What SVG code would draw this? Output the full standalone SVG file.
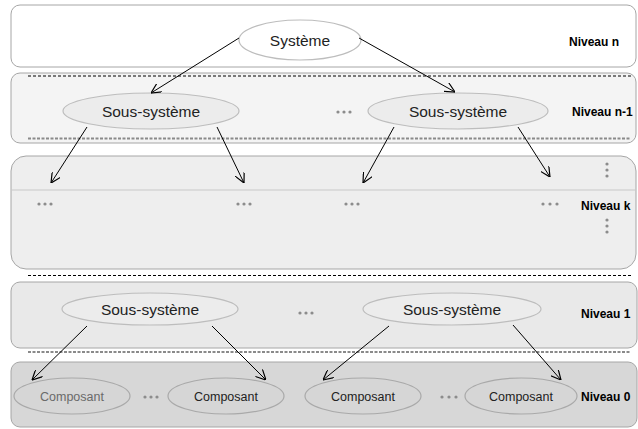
<svg xmlns="http://www.w3.org/2000/svg" width="638" height="429" viewBox="0 0 638 429">
<style>
.band{stroke:#a6a6a6;stroke-width:1}
.ell{fill:#ececec;stroke:#bdbdbd;stroke-width:1.2}
.ell0{fill:#d6d6d6;stroke:#a9a9a9;stroke-width:1.2}
.t{font-family:"Liberation Sans",Arial,sans-serif;fill:#222;text-anchor:middle}
.big{font-size:15.5px}
.small{font-size:12.5px}
.lvl{font-family:"Liberation Sans",Arial,sans-serif;font-size:12px;font-weight:bold;fill:#000}
.dots{fill:#8c8c8c}
.conn line{stroke:#000;stroke-width:1;marker-end:url(#arr)}
.dash1{stroke:#000;stroke-width:1;stroke-dasharray:3 2}
.dash2{stroke:#8a8a8a;stroke-width:2;stroke-dasharray:3 1.5}
</style>
<defs>
<marker id="arr" viewBox="0 0 10 10" refX="10" refY="5" markerWidth="10" markerHeight="10" markerUnits="userSpaceOnUse" orient="auto">
<path d="M0,0 L10,5 L0,10" fill="none" stroke="#000" stroke-width="1.2"/>
</marker>
</defs>

<g id="band-n"><rect class="band" x="11" y="5" width="625" height="62" rx="9" fill="#ffffff"/>
<text class="lvl" x="569" y="46">Niveau  n</text></g>

<g id="band-n1"><rect class="band" x="11" y="73" width="625" height="70" rx="9" fill="#f4f4f4"/>
<line class="dash1" x1="28" y1="76" x2="631" y2="76"/>
<line class="dash2" x1="28" y1="138.5" x2="631" y2="138.5"/>
<text class="lvl" x="572" y="116">Niveau  n-1</text></g>

<g id="band-k"><rect class="band" x="11" y="156" width="625" height="113" rx="15" fill="#eeeeee"/>
<line x1="11" y1="190" x2="636" y2="190" stroke="#c8c8c8" stroke-width="1"/>
<text class="lvl" x="581" y="210">Niveau  k</text>
<g class="dots">
<circle cx="39" cy="204" r="1.6"/><circle cx="45" cy="204" r="1.6"/><circle cx="51" cy="204" r="1.6"/>
<circle cx="238" cy="204" r="1.6"/><circle cx="244" cy="204" r="1.6"/><circle cx="250" cy="204" r="1.6"/>
<circle cx="346" cy="204" r="1.6"/><circle cx="352" cy="204" r="1.6"/><circle cx="358" cy="204" r="1.6"/>
<circle cx="543" cy="204" r="1.6"/><circle cx="550" cy="204" r="1.6"/><circle cx="557" cy="204" r="1.6"/>
<circle cx="607" cy="164" r="1.6"/><circle cx="607" cy="170" r="1.6"/><circle cx="607" cy="176" r="1.6"/>
<circle cx="607" cy="220" r="1.6"/><circle cx="607" cy="226" r="1.6"/><circle cx="607" cy="232" r="1.6"/>
</g></g>

<line id="sep-k" class="dash1" x1="28" y1="275.5" x2="631" y2="275.5"/>

<g id="band-1"><rect class="band" x="11" y="282" width="626" height="66" rx="9" fill="#e9e9e9"/>
<text class="lvl" x="581" y="318">Niveau  1</text>
<g class="dots"><circle cx="300" cy="313" r="1.6"/><circle cx="306" cy="313" r="1.6"/><circle cx="312" cy="313" r="1.6"/></g></g>

<line id="sep-1" class="dash2" x1="28" y1="352" x2="631" y2="352"/>

<g id="band-0"><rect class="band" x="11" y="362" width="626" height="65" rx="9" fill="#d7d7d7"/>
<text class="lvl" x="581" y="401">Niveau  0</text>
<g class="dots">
<circle cx="145" cy="397" r="1.6"/><circle cx="151" cy="397" r="1.6"/><circle cx="157" cy="397" r="1.6"/>
<circle cx="442" cy="397" r="1.6"/><circle cx="449" cy="397" r="1.6"/><circle cx="456" cy="397" r="1.6"/>
</g></g>

<g id="systeme"><ellipse class="ell" cx="300" cy="40" rx="61" ry="20" style="fill:#ffffff"/>
<text class="t big" x="300" y="46">Système</text></g>
<g id="ss-n1-a"><ellipse class="ell" cx="151" cy="111" rx="88" ry="18"/>
<text class="t big" x="151" y="117">Sous-système</text></g>
<g id="dots-n1" class="dots"><circle cx="338" cy="112" r="1.6"/><circle cx="344" cy="112" r="1.6"/><circle cx="350" cy="112" r="1.6"/></g>
<g id="ss-n1-b"><ellipse class="ell" cx="458" cy="111" rx="90" ry="18"/>
<text class="t big" x="458" y="117">Sous-système</text></g>

<g id="ss-1-a"><ellipse class="ell" cx="150" cy="309" rx="88" ry="16"/>
<text class="t big" x="150" y="315">Sous-système</text></g>
<g id="ss-1-b"><ellipse class="ell" cx="452" cy="309" rx="89" ry="16"/>
<text class="t big" x="452" y="315">Sous-système</text></g>

<g id="comp-1"><ellipse class="ell0" cx="72" cy="396" rx="58" ry="18"/>
<text class="t small" x="72" y="401" style="fill:#6a6a6a">Composant</text></g>
<g id="comp-2"><ellipse class="ell0" cx="226" cy="396" rx="58" ry="18"/>
<text class="t small" x="226" y="401">Composant</text></g>
<g id="comp-3"><ellipse class="ell0" cx="363" cy="396" rx="58" ry="18"/>
<text class="t small" x="363" y="401">Composant</text></g>
<g id="comp-4"><ellipse class="ell0" cx="521" cy="396" rx="56" ry="18"/>
<text class="t small" x="521" y="401">Composant</text></g>

<g id="connectors" class="conn">
<line x1="239" y1="38" x2="151" y2="93"/>
<line x1="359" y1="38" x2="455" y2="92"/>
<line x1="87" y1="127" x2="51" y2="183"/>
<line x1="217" y1="127" x2="244" y2="183"/>
<line x1="394" y1="127" x2="363" y2="183"/>
<line x1="518" y1="127" x2="550" y2="177"/>
<line x1="87" y1="326" x2="32" y2="380"/>
<line x1="212" y1="326" x2="266" y2="380"/>
<line x1="389" y1="326" x2="323" y2="380"/>
<line x1="513" y1="325" x2="561" y2="380"/>
</g>
</svg>
